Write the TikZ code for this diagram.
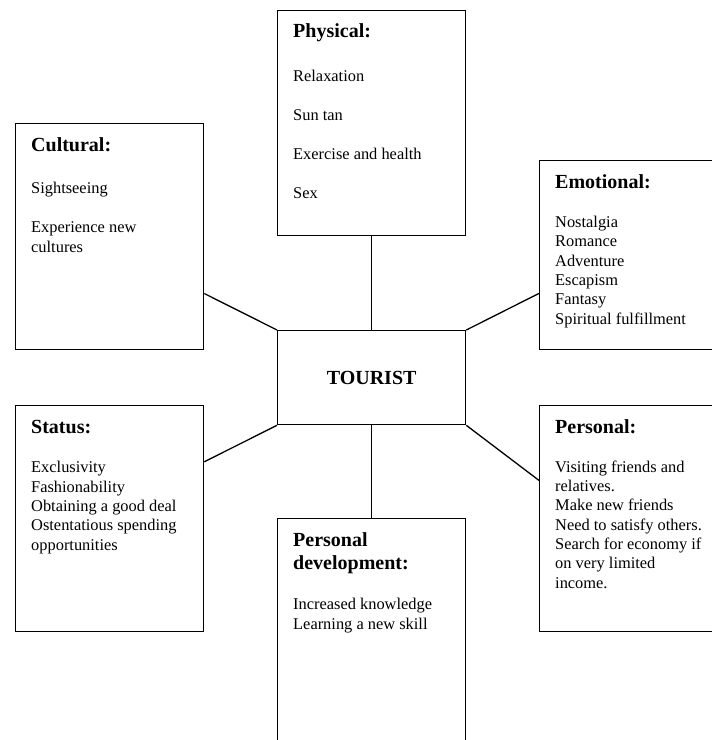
\documentclass[tikz,border=0pt]{standalone}
\usepackage{fontspec}
\setmainfont{Liberation Serif}
\tikzset{
  motive/.style={draw, line width=1.3pt, minimum width=188pt, minimum height=#1,
    anchor=north west, inner sep=0pt},
  head/.style={anchor=base west, inner sep=0pt, align=left,
    font=\fontsize{20}{23}\selectfont\bfseries},
  body/.style={anchor=base west, inner sep=0pt, align=left,
    font=\fontsize{16.4}{19.3}\selectfont},
}
\begin{document}
\begin{tikzpicture}[x=1pt, y=-1pt]
      \useasboundingbox (0,0) rectangle (712,740);
      % boxes
      \draw
        (277,10) node[motive=225pt] (physical){}
        (15,123) node[motive=226pt] (cultural){}
        (539,160) node[motive=189pt] (emotional){}
        (277,330) node[motive=94pt] (tourist){}
        (15,405) node[motive=226pt] (status){}
        (539,405) node[motive=226pt] (personal){}
        (277,518) node[motive=240pt] (develop){};
      % texts, placed at the baseline of their last line
      \draw
        (293,37) node[head] (physicalhead){Physical:}
        (293,198) node[body] (physicaltext){Relaxation\\[19.5pt] Sun tan\\[19.5pt]
          Exercise and health\\[19.5pt] Sex}
        (31,151) node[head] (culturalhead){Cultural:}
        (31,252) node[body] (culturaltext){Sightseeing\\[19.5pt] Experience new\\ cultures}
        (555,188) node[head] (emotionalhead){Emotional:}
        (555,324) node[body] (emotionaltext){Nostalgia\\ Romance\\ Adventure\\ Escapism\\
          Fantasy\\ Spiritual fulfillment}
        (tourist.center) node[font=\fontsize{20}{23}\selectfont\bfseries] (touristtext){TOURIST}
        (31,433) node[head] (statushead){Status:}
        (31,550) node[body] (statustext){Exclusivity\\ Fashionability\\ Obtaining a good deal\\
          Ostentatious spending\\ opportunities}
        (555,433) node[head] (personalhead){Personal:}
        (555,588) node[body] (personaltext){Visiting friends and\\ relatives.\\ Make new friends\\
          Need to satisfy others.\\ Search for economy if\\ on very limited\\ income.}
        (293,569) node[head] (develophead){Personal\\ development:}
        (293,629) node[body] (developtext){Increased knowledge\\ Learning a new skill};
      \begin{scope}[line width=1.3pt]
        \draw (physical.south) to (tourist.north);
        \draw (cultural.-31) to (tourist.north west);
        \draw (emotional.202) to (tourist.north east);
        \draw (status.31) to (tourist.south west);
        \draw (personal.158) to (tourist.south east);
        \draw (tourist.south) to (develop.north);
      \end{scope}
    \end{tikzpicture}
\end{document}
